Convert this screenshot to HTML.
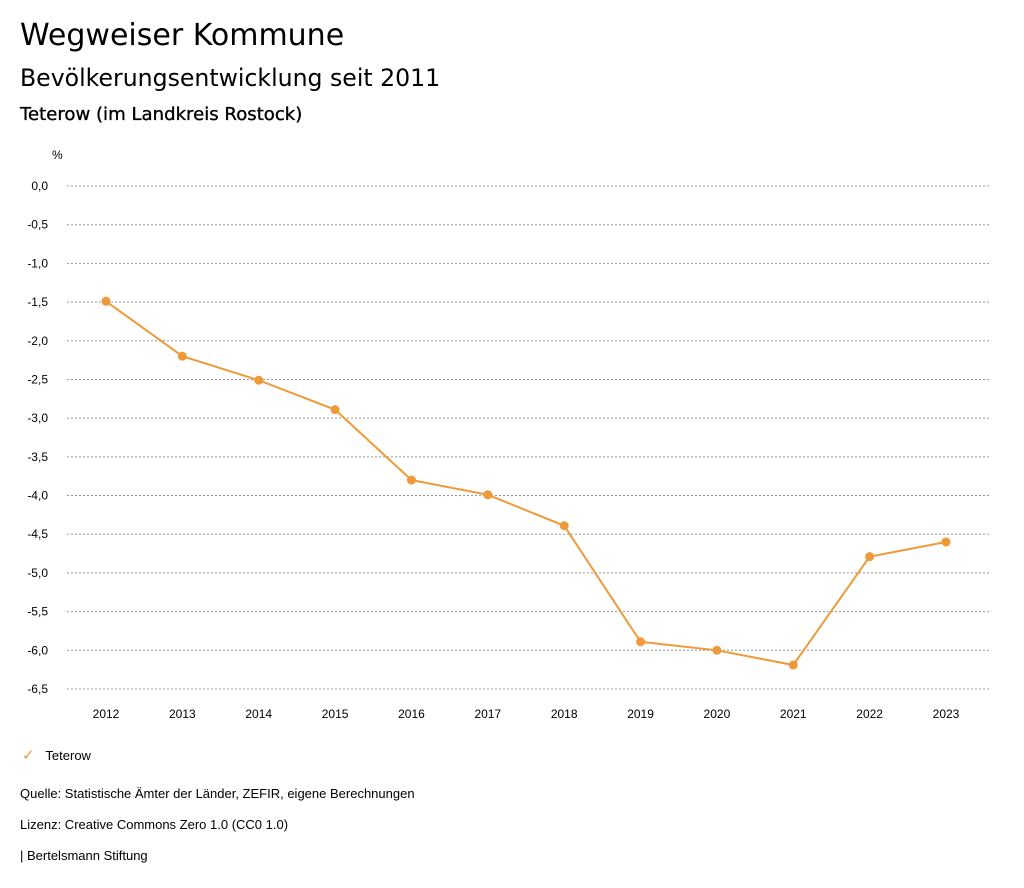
<!DOCTYPE html>
<html><head><meta charset="utf-8"><style>
body{margin:0;width:1024px;height:888px;background:#fff;font-family:"Liberation Sans",sans-serif;color:#000;position:relative;overflow:hidden}
.t{position:absolute;white-space:nowrap}
.d{font-family:"DejaVu Sans",sans-serif}
</style></head><body>
<div class="t d" style="left:20px;top:18px;font-size:30px">Wegweiser Kommune</div>
<div class="t d" style="left:20px;top:64px;font-size:23.6px">Bevölkerungsentwicklung seit 2011</div>
<div class="t d" style="left:20px;top:104px;font-size:18.1px;-webkit-text-stroke:0.35px #000">Teterow (im Landkreis Rostock)</div>
<svg id="chart" width="1024" height="740" style="position:absolute;left:0;top:0" font-family="Liberation Sans, sans-serif"></svg>
<div class="t" style="left:22px;top:746px;font-size:13px"><span style="color:#ee9a3a;font-size:15px">✓</span>&nbsp;&nbsp;&nbsp;Teterow</div>
<div class="t" style="left:20px;top:786px;font-size:13px">Quelle: Statistische Ämter der Länder, ZEFIR, eigene Berechnungen</div>
<div class="t" style="left:20px;top:817px;font-size:13px">Lizenz: Creative Commons Zero 1.0 (CC0 1.0)</div>
<div class="t" style="left:20px;top:848px;font-size:13px">| Bertelsmann Stiftung</div>
<script>
const years=["2012","2013","2014","2015","2016","2017","2018","2019","2020","2021","2022","2023"];
const values=[-1.49,-2.2,-2.51,-2.89,-3.8,-3.99,-4.39,-5.89,-6.0,-6.19,-4.79,-4.6];
const yTicks=[0,-0.5,-1,-1.5,-2,-2.5,-3,-3.5,-4,-4.5,-5,-5.5,-6,-6.5];
const NS="http://www.w3.org/2000/svg";
const svg=document.getElementById('chart');
const y=v=>186+(0-v)/6.5*503;
const x=i=>106+i*(946-106)/(years.length-1);
function mk(t,a){const e=document.createElementNS(NS,t);for(const k in a)e.setAttribute(k,a[k]);svg.appendChild(e);return e;}
let u=mk('text',{x:52,y:159,'font-size':12});u.textContent='%';


yTicks.forEach(v=>{
 const l=mk('line',{x1:67,x2:990,y1:y(v),y2:y(v),stroke:'#999','stroke-dasharray':'2,2','stroke-width':1});
 
 
 const t=mk('text',{x:48,y:y(v)+4,'font-size':12,'text-anchor':'end'});
 t.textContent=v.toFixed(1).replace('.',',');
 
 
});
years.forEach((yr,i)=>{
 const t=mk('text',{x:x(i),y:718,'font-size':12,'text-anchor':'middle'});
 t.textContent=yr;
 
 
});
const p=mk('polyline',{points:values.map((v,i)=>x(i)+','+y(v)).join(' '),fill:'none',stroke:'#ee9a3a','stroke-width':2});


values.forEach((v,i)=>{
 const c=mk('circle',{cx:x(i),cy:y(v),r:4.5,fill:'#ee9a3a'});
 
 
});
</script>
</body></html>
